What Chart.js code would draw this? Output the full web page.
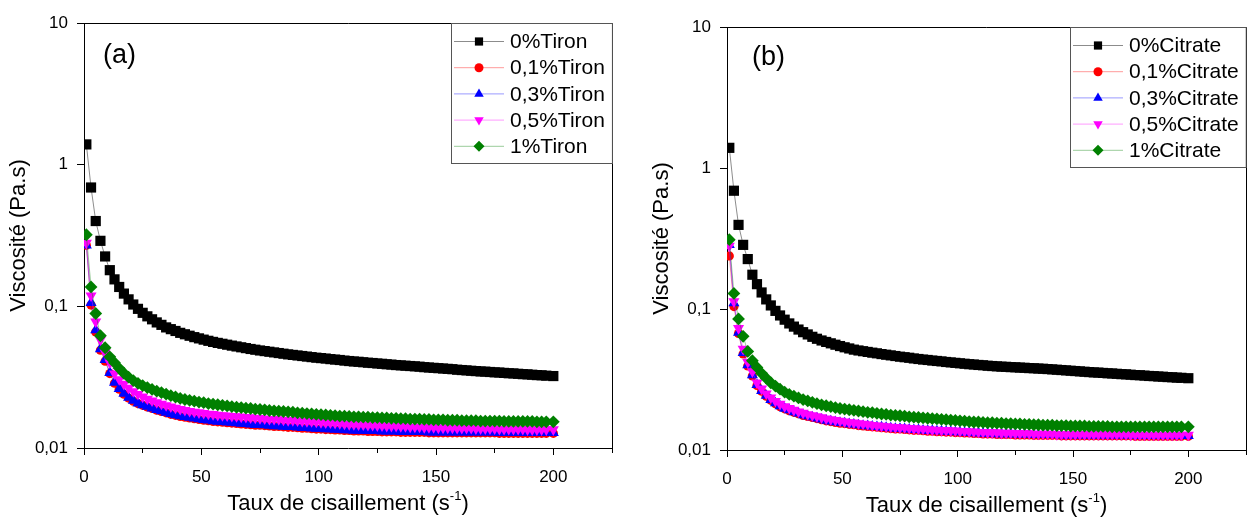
<!DOCTYPE html>
<html>
<head>
<meta charset="utf-8">
<script src="https://cdn.jsdelivr.net/npm/chart.js@4.4.1/dist/chart.umd.min.js"></script>
<style>
  html, body { margin: 0; padding: 0; background: #fff; }
  body { width: 1258px; height: 519px; position: relative; overflow: hidden; }
  canvas { position: absolute; top: 0; }
  #chartA { left: 0; }
  #chartB { left: 633px; }
</style>
</head>
<body>
<canvas id="chartA" width="625" height="519"></canvas>
<canvas id="chartB" width="625" height="519"></canvas>
<script>
// shear rate (s-1), same steps for every curve
const shearRate = [1,3,5,7,9,11,13,15,17,19,21,23,25,27,29,31,33,35,37,39,41,
  43,45,47,49,51,53,55,
  57,59,61,63,65,67,69,71,
  73,75,77,79,81,83,85,
  87,89,91,93,95,97,99,
  101,103,105,107,109,111,113,
  115,117,119,121,123,125,127,129,131,133,135,137,139,
  141,143,145,147,149,151,153,155,157,159,161,163,165,167,
  169,171,173,175,177,179,181,183,185,187,189,191,193,195,197,200];

const xTickValues = [0, 50, 100, 150, 200];
const xTickLabels = ['0', '50', '100', '150', '200'];
const yTickValues = [0.01, 0.1, 1, 10];
const yTickLabels = ['0,01', '0,1', '1', '10'];

// (a) Tiron
const tironNames = ['0%Tiron', '0,1%Tiron', '0,3%Tiron', '0,5%Tiron', '1%Tiron'];
const tiron0 = [1.39,0.69,0.40,0.29,0.225,0.18,0.155,0.137,0.123,0.112,0.103,0.096,0.090,0.085,0.081,0.077,0.074,0.071,0.069,0.067,0.065,
  0.0635,0.0620,0.0606,0.0594,0.0582,0.0571,0.0561,
  0.0552,0.0544,0.0536,0.0528,0.0521,0.0514,0.0507,0.0500,
  0.0494,0.0488,0.0483,0.0478,0.0473,0.0468,0.0463,
  0.0458,0.0454,0.0450,0.0446,0.0442,0.0438,0.0434,
  0.0431,0.0428,0.0424,0.0421,0.0418,0.0414,0.0411,
  0.0408,0.0406,0.0403,0.0400,0.0398,0.0395,0.0393,0.0390,0.0388,0.0385,0.0383,0.0381,0.0379,
  0.0377,0.0375,0.0372,0.0370,0.0368,0.0366,0.0364,0.0362,0.0360,0.0357,0.0355,0.0353,0.0351,0.0349,
  0.0347,0.0346,0.0344,0.0342,0.0341,0.0339,0.0337,0.0336,0.0334,0.0332,0.0331,0.0329,0.0327,0.0326,0.0324,0.0322];
const tiron01 = [0.27,0.102,0.066,0.049,0.041,0.0335,0.0287,0.0260,0.0240,0.0225,0.0214,0.0206,0.0200,0.0195,0.0190,0.0185,0.0181,0.0177,0.0173,0.0170,0.0167,
  0.0165,0.0163,0.0161,0.0159,0.0157,0.0156,0.0154,
  0.0153,0.0152,0.0151,0.0150,0.0149,0.0148,0.0147,0.0146,
  0.0145,0.0145,0.0144,0.0143,0.0142,0.0142,0.0141,
  0.0140,0.0140,0.0139,0.0138,0.0138,0.0137,0.0136,
  0.0136,0.0135,0.0135,0.0134,0.0134,0.0133,0.0133,
  0.0132,0.0132,0.0132,0.0131,0.0131,0.0131,0.0130,0.0130,0.0130,0.0130,0.0129,0.0129,0.0129,
  0.0129,0.0129,0.0129,0.0128,0.0128,0.0128,0.0128,0.0128,0.0128,0.0128,0.0128,0.0128,0.0128,0.0128,
  0.0128,0.0128,0.0128,0.0128,0.0127,0.0127,0.0127,0.0127,0.0127,0.0127,0.0127,0.0127,0.0127,0.0127,0.0127,0.0127];
const tiron03 = [0.27,0.106,0.068,0.050,0.042,0.034,0.0290,0.0262,0.0242,0.0227,0.0216,0.0207,0.0201,0.0196,0.0191,0.0186,0.0182,0.0178,0.0174,0.0171,0.0168,
  0.0166,0.0164,0.0162,0.0160,0.0158,0.0157,0.0155,
  0.0154,0.0153,0.0152,0.0151,0.0150,0.0149,0.0148,0.0147,
  0.0146,0.0146,0.0145,0.0144,0.0143,0.0143,0.0142,
  0.0141,0.0141,0.0140,0.0139,0.0139,0.0138,0.0137,
  0.0137,0.0136,0.0136,0.0135,0.0135,0.0134,0.0134,
  0.0133,0.0133,0.0133,0.0132,0.0132,0.0132,0.0131,0.0131,0.0131,0.0131,0.0130,0.0130,0.0130,
  0.0130,0.0130,0.0130,0.0129,0.0129,0.0129,0.0129,0.0129,0.0129,0.0129,0.0129,0.0129,0.0129,0.0129,
  0.0129,0.0129,0.0129,0.0129,0.0128,0.0128,0.0128,0.0128,0.0128,0.0128,0.0128,0.0128,0.0128,0.0128,0.0128,0.0128];
const tiron05 = [0.28,0.119,0.078,0.058,0.047,0.040,0.0335,0.0305,0.0283,0.0265,0.0251,0.0240,0.0230,0.0222,0.0216,0.0210,0.0205,0.0200,0.0196,0.0192,0.0188,
  0.0185,0.0182,0.0180,0.0178,0.0176,0.0174,0.0173,
  0.0171,0.0170,0.0169,0.0168,0.0167,0.0166,0.0165,0.0164,
  0.0163,0.0162,0.0161,0.0160,0.0160,0.0159,0.0158,
  0.0157,0.0157,0.0156,0.0155,0.0154,0.0154,0.0153,
  0.0152,0.0151,0.0151,0.0150,0.0149,0.0148,0.0147,
  0.0147,0.0146,0.0146,0.0145,0.0145,0.0144,0.0144,0.0143,0.0143,0.0143,0.0142,0.0142,0.0141,
  0.0141,0.0141,0.0140,0.0140,0.0140,0.0139,0.0139,0.0139,0.0139,0.0138,0.0138,0.0138,0.0138,0.0137,
  0.0137,0.0137,0.0137,0.0137,0.0136,0.0136,0.0136,0.0136,0.0136,0.0136,0.0135,0.0135,0.0135,0.0135,0.0135,0.0135];
const tiron1 = [0.32,0.137,0.089,0.062,0.051,0.044,0.040,0.0365,0.0337,0.0316,0.0299,0.0286,0.0276,0.0267,0.0259,0.0252,0.0246,0.0240,0.0234,0.0229,0.0224,
  0.0220,0.0217,0.0214,0.0211,0.0209,0.0206,0.0204,
  0.0202,0.0200,0.0198,0.0196,0.0194,0.0193,0.0191,0.0190,
  0.0188,0.0187,0.0186,0.0184,0.0183,0.0182,0.0181,
  0.0180,0.0179,0.0177,0.0176,0.0175,0.0174,0.0173,
  0.0172,0.0171,0.0170,0.0169,0.0168,0.0168,0.0167,
  0.0166,0.0166,0.0165,0.0165,0.0164,0.0164,0.0163,0.0163,0.0162,0.0162,0.0161,0.0161,0.0160,
  0.0160,0.0160,0.0159,0.0159,0.0158,0.0158,0.0158,0.0157,0.0157,0.0157,0.0156,0.0156,0.0156,0.0156,
  0.0155,0.0155,0.0155,0.0155,0.0155,0.0154,0.0154,0.0154,0.0154,0.0154,0.0154,0.0154,0.0153,0.0153,0.0153,0.0153];

// (b) Citrate
const citrateNames = ['0%Citrate', '0,1%Citrate', '0,3%Citrate', '0,5%Citrate', '1%Citrate'];
const citrate0 = [1.39,0.69,0.395,0.285,0.226,0.175,0.150,0.131,0.117,0.106,0.097,0.090,0.084,0.079,0.075,0.0715,0.0685,0.066,0.0635,0.0615,0.0598,
  0.0584,0.0571,0.0558,0.0546,0.0535,0.0525,0.0515,
  0.0508,0.0502,0.0496,0.0490,0.0485,0.0479,0.0474,0.0469,
  0.0464,0.0459,0.0455,0.0451,0.0446,0.0442,0.0438,
  0.0435,0.0431,0.0428,0.0425,0.0421,0.0418,0.0415,
  0.0412,0.0409,0.0406,0.0404,0.0401,0.0399,0.0396,
  0.0394,0.0392,0.0390,0.0389,0.0387,0.0386,0.0384,0.0383,0.0381,0.0380,0.0378,0.0377,0.0375,
  0.0373,0.0371,0.0369,0.0367,0.0365,0.0363,0.0361,0.0359,0.0357,0.0355,0.0354,0.0352,0.0350,0.0349,
  0.0347,0.0345,0.0344,0.0342,0.0340,0.0339,0.0337,0.0335,0.0334,0.0332,0.0331,0.0329,0.0328,0.0326,0.0325,0.0323];
const citrate01 = [0.238,0.104,0.067,0.048,0.0395,0.0335,0.0287,0.0261,0.0241,0.0225,0.0213,0.0203,0.0196,0.0190,0.0185,0.0181,0.0176,0.0173,0.0170,0.0167,0.0164,
  0.0161,0.0159,0.0157,0.0155,0.0154,0.0152,0.0151,
  0.0149,0.0148,0.0147,0.0146,0.0145,0.0144,0.0143,0.0142,
  0.0141,0.0141,0.0140,0.0139,0.0138,0.0138,0.0137,
  0.0136,0.0136,0.0135,0.0135,0.0134,0.0134,0.0133,
  0.0133,0.0132,0.0132,0.0131,0.0131,0.0130,0.0130,
  0.0130,0.0129,0.0129,0.0129,0.0129,0.0128,0.0128,0.0128,0.0128,0.0127,0.0127,0.0127,0.0127,
  0.0127,0.0127,0.0126,0.0126,0.0126,0.0126,0.0126,0.0126,0.0126,0.0126,0.0126,0.0126,0.0126,0.0126,
  0.0126,0.0126,0.0126,0.0126,0.0125,0.0125,0.0125,0.0125,0.0125,0.0125,0.0125,0.0125,0.0125,0.0125,0.0125,0.0125];
const citrate03 = [0.285,0.110,0.068,0.049,0.040,0.034,0.0290,0.0263,0.0243,0.0227,0.0215,0.0205,0.0197,0.0192,0.0186,0.0182,0.0177,0.0174,0.0171,0.0168,0.0165,
  0.0162,0.0160,0.0158,0.0156,0.0155,0.0153,0.0152,
  0.0150,0.0149,0.0148,0.0147,0.0146,0.0145,0.0144,0.0143,
  0.0142,0.0142,0.0141,0.0140,0.0139,0.0139,0.0138,
  0.0137,0.0137,0.0136,0.0136,0.0135,0.0135,0.0134,
  0.0134,0.0133,0.0133,0.0132,0.0132,0.0131,0.0131,
  0.0131,0.0130,0.0130,0.0130,0.0130,0.0129,0.0129,0.0129,0.0129,0.0128,0.0128,0.0128,0.0128,
  0.0128,0.0128,0.0127,0.0127,0.0127,0.0127,0.0127,0.0127,0.0127,0.0127,0.0127,0.0127,0.0127,0.0127,
  0.0127,0.0127,0.0127,0.0127,0.0126,0.0126,0.0126,0.0126,0.0126,0.0126,0.0126,0.0126,0.0126,0.0126,0.0126,0.0126];
const citrate05 = [0.28,0.113,0.073,0.052,0.042,0.036,0.0300,0.0272,0.0251,0.0235,0.0222,0.0212,0.0204,0.0198,0.0192,0.0187,0.0183,0.0179,0.0176,0.0173,0.0170,
  0.0167,0.0165,0.0163,0.0161,0.0159,0.0157,0.0156,
  0.0154,0.0153,0.0152,0.0150,0.0149,0.0148,0.0147,0.0146,
  0.0145,0.0144,0.0144,0.0143,0.0142,0.0141,0.0141,
  0.0140,0.0139,0.0139,0.0138,0.0138,0.0137,0.0137,
  0.0136,0.0136,0.0135,0.0135,0.0134,0.0134,0.0133,
  0.0133,0.0133,0.0132,0.0132,0.0132,0.0131,0.0131,0.0131,0.0131,0.0130,0.0130,0.0130,0.0130,
  0.0130,0.0129,0.0129,0.0129,0.0129,0.0129,0.0129,0.0129,0.0129,0.0129,0.0129,0.0129,0.0129,0.0129,
  0.0129,0.0129,0.0129,0.0128,0.0128,0.0128,0.0128,0.0128,0.0128,0.0128,0.0128,0.0128,0.0128,0.0128,0.0128,0.0128];
const citrate1 = [0.31,0.129,0.085,0.064,0.050,0.043,0.0385,0.0350,0.0323,0.0300,0.0284,0.0270,0.0257,0.0248,0.0241,0.0234,0.0228,0.0223,0.0218,0.0213,0.0209,
  0.0206,0.0203,0.0200,0.0197,0.0195,0.0193,0.0191,
  0.0189,0.0187,0.0185,0.0184,0.0182,0.0180,0.0179,0.0177,
  0.0176,0.0175,0.0174,0.0172,0.0171,0.0170,0.0169,
  0.0168,0.0167,0.0166,0.0165,0.0164,0.0163,0.0162,
  0.0161,0.0160,0.0159,0.0158,0.0158,0.0157,0.0156,
  0.0156,0.0155,0.0155,0.0154,0.0154,0.0153,0.0153,0.0152,0.0152,0.0151,0.0151,0.0150,0.0150,
  0.0150,0.0149,0.0149,0.0149,0.0148,0.0148,0.0148,0.0148,0.0147,0.0147,0.0147,0.0147,0.0147,0.0146,
  0.0146,0.0146,0.0146,0.0146,0.0146,0.0146,0.0146,0.0146,0.0146,0.0146,0.0146,0.0146,0.0146,0.0146,0.0146,0.0146];

const FONT = '"Liberation Sans", Arial, sans-serif';
Chart.defaults.font.family = FONT;
Chart.defaults.color = '#000';

// marker / line look per series (same order as the name lists)
const seriesStyles = [
  { color: '#000000', line: 'rgba(0,0,0,0.45)',    shape: 'rect',     radius: 7.2, legendRadius: 5.8, rotation: 0,   order: 0 },
  { color: '#ff0000', line: 'rgba(255,0,0,0.4)',   shape: 'circle',   radius: 4.6, legendRadius: 4.5, rotation: 0,   order: 4 },
  { color: '#0000ff', line: 'rgba(0,0,255,0.4)',   shape: 'triangle', radius: 6.4, legendRadius: 5.5, rotation: 0,   order: 3 },
  { color: '#ff00ff', line: 'rgba(255,0,255,0.4)', shape: 'triangle', radius: 6.4, legendRadius: 5.5, rotation: 180, order: 2 },
  { color: '#008000', line: 'rgba(0,128,0,0.4)',   shape: 'rectRot',  radius: 6.4, legendRadius: 5.5, rotation: 0,   order: 1 }
];

function marker(ctx, s, x, y) {
  ctx.fillStyle = s.color;
  if (Chart.helpers && Chart.helpers.drawPoint) {
    Chart.helpers.drawPoint(ctx, { pointStyle: s.shape, radius: s.legendRadius, rotation: s.rotation, borderWidth: 0 }, x, y);
  } else {
    ctx.fillRect(x - 4, y - 4, 8, 8);
  }
}

// frame, titles, panel tag and the boxed legend
const panelDecor = {
  id: 'panelDecor',
  afterDraw(chart, args, o) {
    const ctx = chart.ctx;
    const a = chart.chartArea;
    ctx.save();

    ctx.strokeStyle = '#000';
    ctx.lineWidth = 1;
    ctx.beginPath();
    ctx.moveTo(a.left, Math.round(a.top) + 0.5);
    ctx.lineTo(Math.round(a.right) + 0.5, Math.round(a.top) + 0.5);
    ctx.lineTo(Math.round(a.right) + 0.5, a.bottom);
    ctx.stroke();

    // panel tag
    ctx.fillStyle = '#000';
    ctx.font = '27px ' + FONT;
    ctx.textAlign = 'left';
    ctx.textBaseline = 'middle';
    ctx.fillText(o.tag, a.left + o.tagDx, a.top + o.tagDy);

    // y title
    ctx.save();
    ctx.translate(a.left - 65, (a.top + a.bottom) / 2);
    ctx.rotate(-Math.PI / 2);
    ctx.font = '22px ' + FONT;
    ctx.textAlign = 'center';
    ctx.fillText('Viscosité (Pa.s)', 0, 0);
    ctx.restore();

    // x title with superscript
    const big = '22px ' + FONT, small = '13px ' + FONT;
    const p1 = 'Taux de cisaillement (s', p2 = '-1', p3 = ')';
    ctx.font = big;
    const w1 = ctx.measureText(p1).width, w3 = ctx.measureText(p3).width;
    ctx.font = small;
    const w2 = ctx.measureText(p2).width;
    let tx = (a.left + a.right) / 2 - (w1 + w2 + w3) / 2;
    const ty = a.bottom + 56;
    ctx.textAlign = 'left';
    ctx.font = big; ctx.fillText(p1, tx, ty); tx += w1;
    ctx.font = small; ctx.fillText(p2, tx, ty - 8); tx += w2;
    ctx.font = big; ctx.fillText(p3, tx, ty);

    // legend
    ctx.font = '21px ' + FONT;
    const tw = Math.max(...o.names.map(n => ctx.measureText(n).width));
    const bw = tw + 66, rowH = 26.2;
    const bx = Math.round(a.right - bw), by = Math.round(a.top);
    const bh = rowH * o.names.length + 9;
    ctx.fillStyle = '#fff';
    ctx.fillRect(bx, by, bw, bh);
    ctx.strokeStyle = '#555';
    ctx.strokeRect(bx + 0.5, by + 0.5, bw, bh);
    o.names.forEach((n, i) => {
      const s = seriesStyles[i];
      const y = by + 18.5 + i * rowH;
      ctx.strokeStyle = s.line;
      ctx.beginPath();
      ctx.moveTo(bx + 3, y);
      ctx.lineTo(bx + 53, y);
      ctx.stroke();
      marker(ctx, s, bx + 28, y);
      ctx.fillStyle = '#000';
      ctx.textBaseline = 'middle';
      ctx.fillText(n, bx + 59, y + 1);
    });
    ctx.restore();
  }
};

function makeChart(id, names, series, lay) {
  return new Chart(document.getElementById(id), {
    type: 'line',
    data: {
      datasets: series.map((vals, i) => {
        const s = seriesStyles[i];
        return {
          label: names[i],
          data: shearRate.map((x, j) => ({ x: x, y: vals[j] })),
          borderColor: s.line,
          borderWidth: 1,
          backgroundColor: s.color,
          pointStyle: s.shape,
          pointRadius: s.radius,
          pointRotation: s.rotation,
          pointBackgroundColor: s.color,
          pointBorderWidth: 0,
          order: s.order
        };
      })
    },
    options: {
      responsive: false,
      animation: false,
      devicePixelRatio: 1,
      layout: { padding: { top: lay.top, right: lay.right, left: 0, bottom: 0 } },
      plugins: {
        legend: { display: false },
        tooltip: { enabled: false },
        panelDecor: { names: names, tag: lay.tag, tagDx: lay.tagDx, tagDy: lay.tagDy }
      },
      scales: {
        x: {
          type: 'linear',
          min: 0,
          max: 225,
          afterFit: (s) => { s.height = lay.xh; },
          border: { color: '#000', width: 1 },
          grid: {
            drawOnChartArea: false,
            tickLength: 7,
            tickColor: '#000',
            tickBorderDash: (c) => (c.tick && c.tick.value % 50 !== 0) ? [4, 30] : []
          },
          ticks: {
            stepSize: 25,
            autoSkip: false,
            maxRotation: 0,
            padding: 12,
            font: { size: 17 },
            callback: (v) => {
              const k = xTickValues.indexOf(v);
              return k >= 0 ? xTickLabels[k] : '';
            }
          }
        },
        y: {
          type: 'logarithmic',
          min: 0.01,
          max: 10,
          afterFit: (s) => { s.width = lay.yw; },
          afterBuildTicks: (s) => { s.ticks = yTickValues.map(v => ({ value: v })); },
          border: { color: '#000', width: 1 },
          grid: { drawOnChartArea: false, tickLength: 7, tickColor: '#000' },
          ticks: {
            padding: 9,
            font: { size: 17 },
            callback: (v) => {
              const k = yTickValues.indexOf(v);
              return k >= 0 ? yTickLabels[k] : '';
            }
          }
        }
      }
    },
    plugins: [panelDecor]
  });
}

makeChart('chartA', tironNames, [tiron0, tiron01, tiron03, tiron05, tiron1],
  { top: 23, right: 13, xh: 71, yw: 84, tag: '(a)', tagDx: 19, tagDy: 33 });
makeChart('chartB', citrateNames, [citrate0, citrate01, citrate03, citrate05, citrate1],
  { top: 27, right: 8, xh: 69, yw: 94, tag: '(b)', tagDx: 25, tagDy: 31 });
</script>
</body>
</html>
